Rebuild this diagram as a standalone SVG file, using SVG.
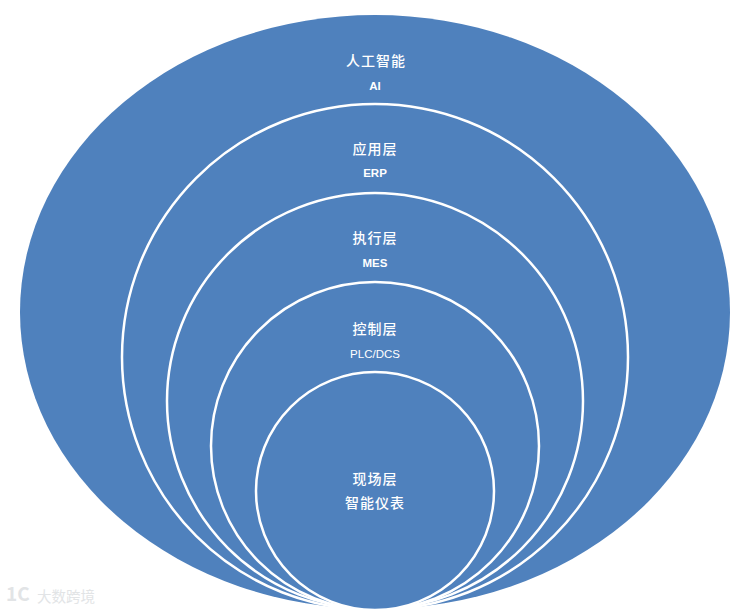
<svg xmlns="http://www.w3.org/2000/svg" width="740" height="610" viewBox="0 0 740 610">
<style>
.ring{fill:#4f81bd;stroke:#fff;stroke-width:2.5}
text{text-anchor:middle;fill:#fff;font-family:"Noto Sans CJK SC","Liberation Sans",sans-serif}
.zh{font-size:14px;font-weight:500;letter-spacing:1px}
.en{font-size:11.5px;font-weight:700;font-family:"Liberation Sans",sans-serif}
.mark{fill:#e2e4e6;text-anchor:start}
</style>
<rect width="740" height="610" fill="#fff"/>
<g id="node-ai">
<ellipse cx="375" cy="312" rx="355" ry="297" fill="#4f81bd"/>
<text class="zh" x="376" y="66">人工智能</text>
<text class="en" x="375" y="90">AI</text>
</g>
<g id="node-erp">
<circle class="ring" cx="375" cy="357" r="253"/>
<text class="zh" x="375" y="154">应用层</text>
<text class="en" x="375" y="177">ERP</text>
</g>
<g id="node-mes">
<circle class="ring" cx="375" cy="401" r="208"/>
<text class="zh" x="375" y="243">执行层</text>
<text class="en" x="375" y="267">MES</text>
</g>
<g id="node-plc">
<circle class="ring" cx="375" cy="446" r="164"/>
<text class="zh" x="375" y="334">控制层</text>
<text class="en" x="375" y="358" style="font-weight:400">PLC/DCS</text>
</g>
<g id="node-field">
<circle class="ring" cx="375" cy="491" r="119"/>
<text class="zh" x="375" y="484">现场层</text>
<text class="zh" x="375" y="508">智能仪表</text>
</g>
<g id="connectors"></g>
<g id="watermark">
<text class="mark" x="6" y="601" style="font-size:19px;font-weight:700">1C</text>
<text class="mark" x="37" y="602" style="font-size:14.5px">大数跨境</text>
</g>
</svg>
